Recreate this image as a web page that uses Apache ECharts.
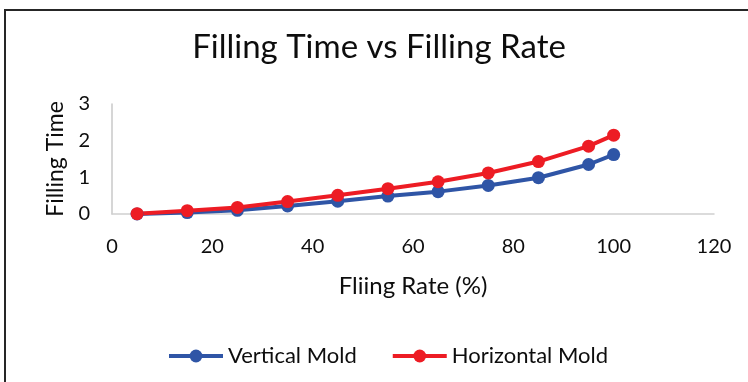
<!DOCTYPE html>
<html>
<head>
<meta charset="utf-8">
<script src="https://cdn.jsdelivr.net/npm/echarts@6/dist/echarts.min.js"></script>
<style>
  html, body { margin: 0; padding: 0; background: #ffffff; }
  #chart { width: 748px; height: 382px; }
</style>
</head>
<body>
<div id="chart"></div>
<script>
// Filling rate (%) on the x axis
const fillingRate = [5, 15, 25, 35, 45, 55, 65, 75, 85, 95, 100];
// Filling time for each mold orientation
const verticalMold = [0.00, 0.04, 0.10, 0.22, 0.35, 0.49, 0.61, 0.78, 0.99, 1.35, 1.62];
const horizontalMold = [0.01, 0.09, 0.18, 0.34, 0.51, 0.69, 0.88, 1.12, 1.43, 1.85, 2.15];
const xTicks = [0, 20, 40, 60, 80, 100, 120];
const yTicks = [0, 1, 2, 3];

const FONT = 'Lato, "Open Sans", sans-serif';
const INK = '#0d0d0d';
const pairs = (xs, ys) => xs.map((x, i) => [x, ys[i]]);

const chart = echarts.init(document.getElementById('chart'), null, { renderer: 'canvas' });

chart.setOption({
  backgroundColor: '#ffffff',
  animation: false,
  title: {
    text: 'Filling Time vs Filling Rate',
    left: 374,
    top: 26,
    textAlign: 'center',
    textStyle: { fontFamily: FONT, fontSize: 33, fontWeight: 'normal', color: INK }
  },
  graphic: [{
    type: 'rect',
    shape: { x: 5, y: 10, width: 780, height: 400 },
    style: { fill: 'none', stroke: '#262626', lineWidth: 2 },
    silent: true
  }],
  legend: {
    bottom: 10,
    left: 162,
    itemWidth: 54,
    itemHeight: 16,
    itemGap: 34,
    lineStyle: { width: 4 },
    textStyle: { fontFamily: FONT, fontSize: 22, color: INK },
    data: ['Vertical Mold', 'Horizontal Mold']
  },
  grid: { left: 112, right: 34, top: 104, bottom: 168, containLabel: false },
  xAxis: {
    type: 'value',
    min: xTicks[0],
    max: xTicks[xTicks.length - 1],
    interval: xTicks[1] - xTicks[0],
    name: 'Fliing Rate (%)',
    nameLocation: 'middle',
    nameGap: 60,
    nameTextStyle: { fontFamily: FONT, fontSize: 24, color: INK },
    axisLine: { show: true, lineStyle: { color: '#d0d0d0', width: 1.5 } },
    axisTick: { show: false },
    splitLine: { show: false },
    axisLabel: { fontFamily: FONT, fontSize: 20, color: INK, margin: 23 }
  },
  yAxis: {
    type: 'value',
    min: yTicks[0],
    max: yTicks[yTicks.length - 1],
    interval: yTicks[1] - yTicks[0],
    name: 'Filling Time',
    nameLocation: 'middle',
    nameGap: 42,
    nameTextStyle: { fontFamily: FONT, fontSize: 23, color: INK },
    axisLine: { show: true, lineStyle: { color: '#c8c8c8', width: 1.5 } },
    axisTick: { show: false },
    splitLine: { show: false },
    axisLabel: { fontFamily: FONT, fontSize: 20, color: INK, margin: 22 }
  },
  series: [
    {
      name: 'Vertical Mold',
      type: 'line',
      data: pairs(fillingRate, verticalMold),
      symbol: 'circle',
      symbolSize: 13,
      color: '#2f55a6',
      lineStyle: { width: 4, color: '#2f55a6' },
      itemStyle: { color: '#2f55a6' }
    },
    {
      name: 'Horizontal Mold',
      type: 'line',
      data: pairs(fillingRate, horizontalMold),
      symbol: 'circle',
      symbolSize: 13,
      color: '#ed1c24',
      lineStyle: { width: 4, color: '#ed1c24' },
      itemStyle: { color: '#ed1c24' }
    }
  ]
});
</script>
</body>
</html>
